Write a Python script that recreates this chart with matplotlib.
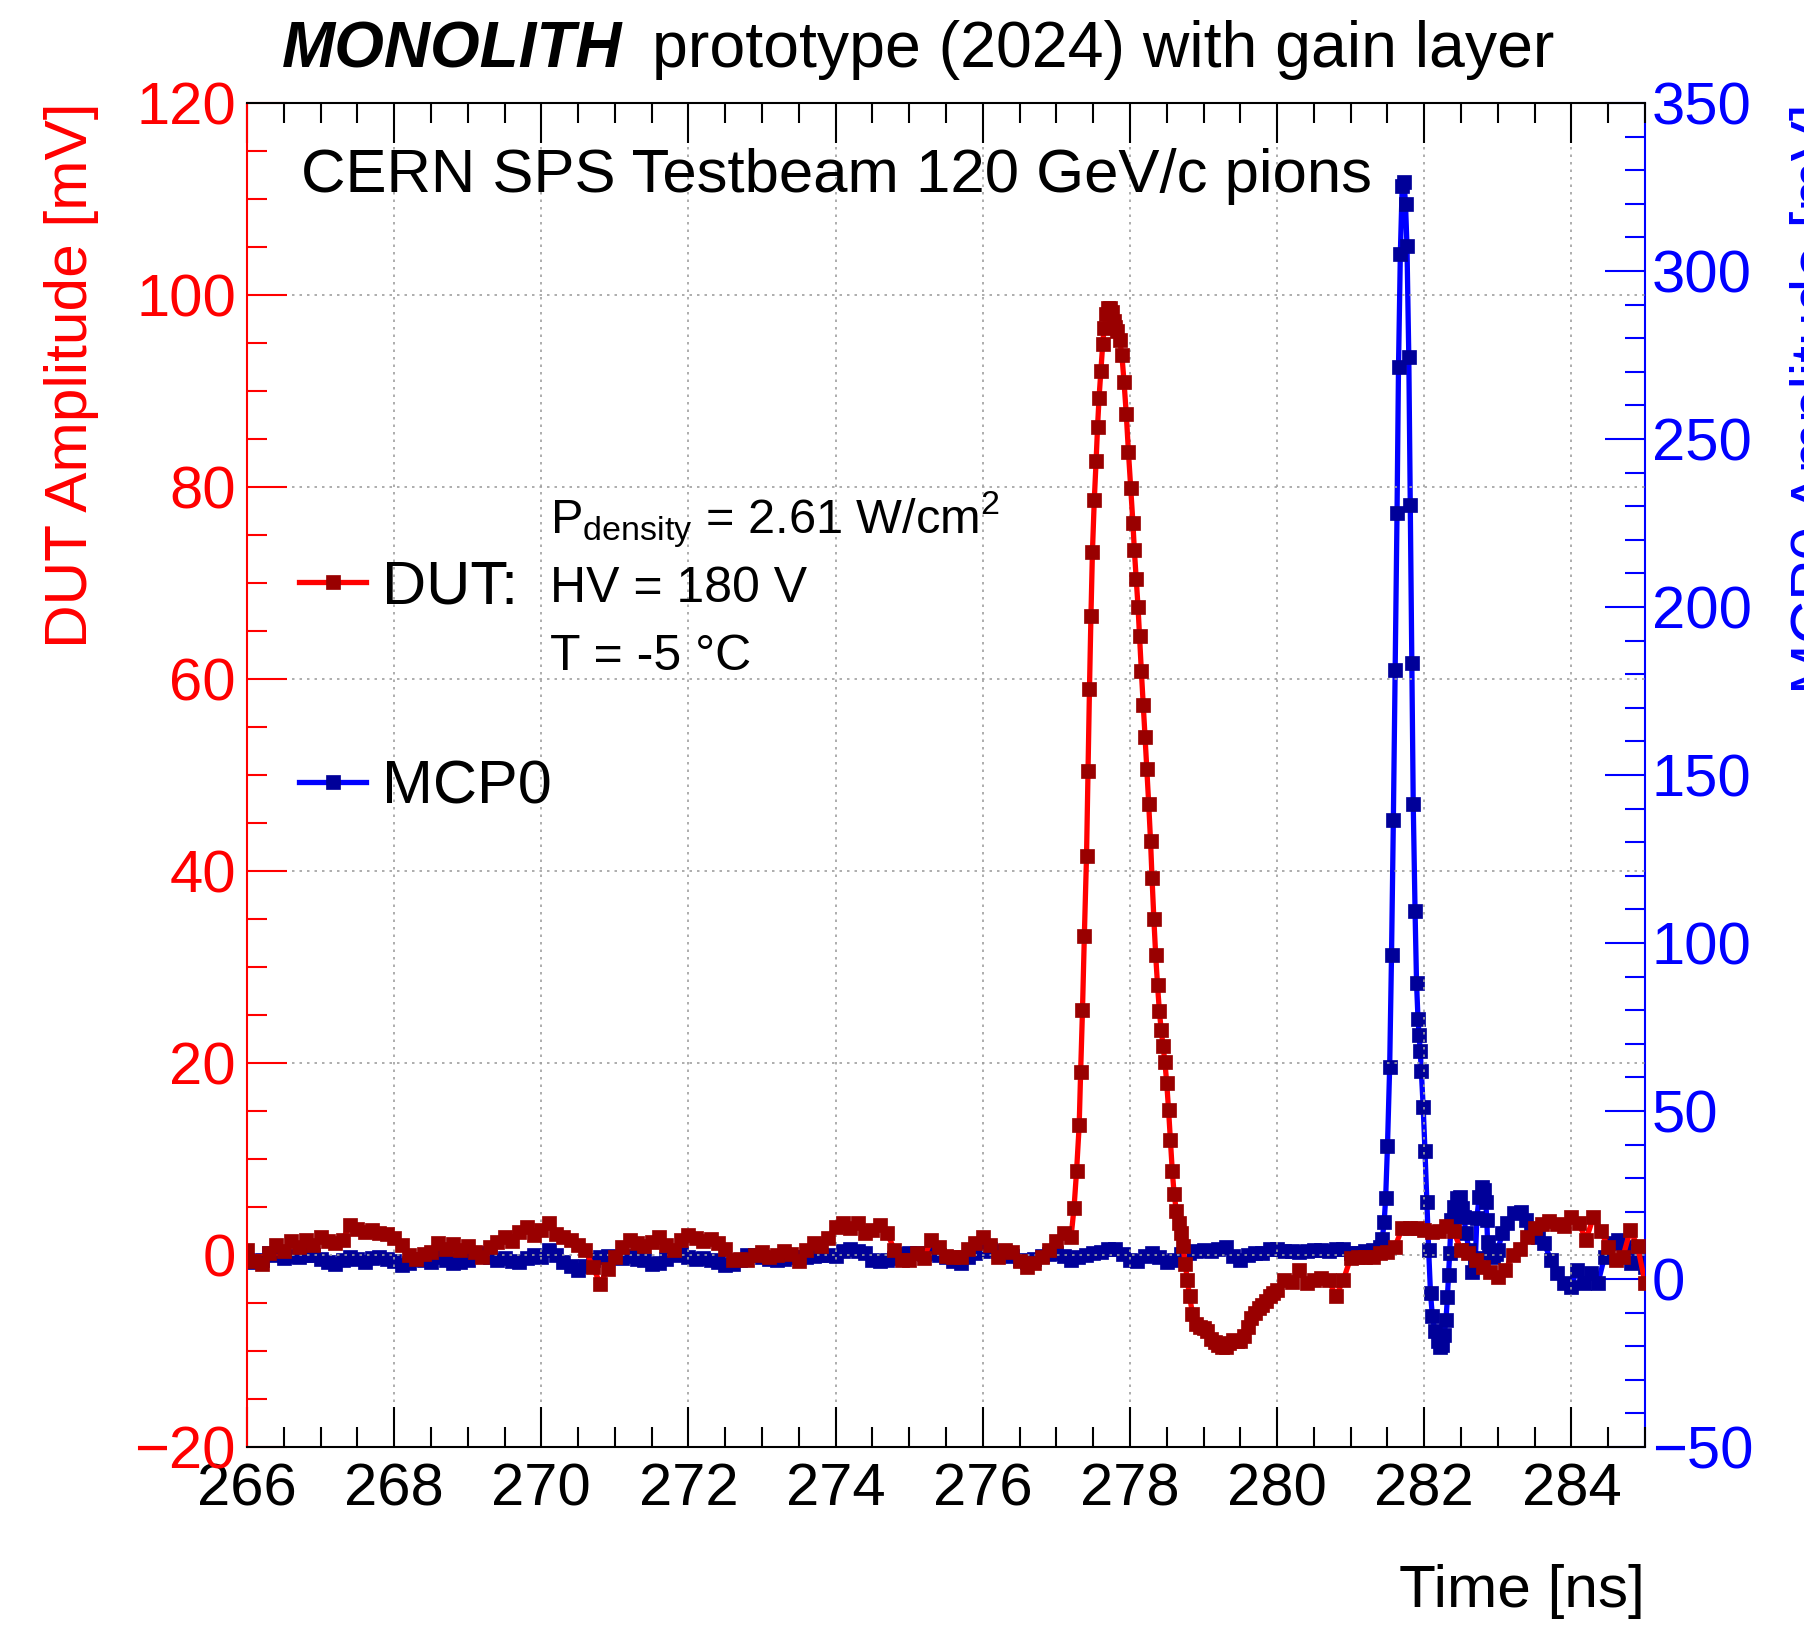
import numpy as np
import matplotlib.pyplot as plt
from matplotlib.ticker import MultipleLocator

plt.rcParams['font.family'] = ['Liberation Sans', 'DejaVu Sans']
plt.rcParams['mathtext.fontset'] = 'custom'
plt.rcParams['mathtext.rm'] = 'Liberation Sans'
plt.rcParams['mathtext.it'] = 'Liberation Sans:italic'
plt.rcParams['mathtext.bf'] = 'Liberation Sans:bold'

# ---- DUT waveform (left axis, mV) ----
# baseline before the pulse, sampled every 0.1 ns
dut_base_t = np.round(np.arange(266.0, 277.25, 0.1), 2)
dut_base_mv = [
    0.5, -0.6, -0.9, 0.2, 1.0, 0.4, 1.5, 0.8, 1.6, 1.0,     # 266
    1.9, 1.5, 1.2, 1.6, 3.1, 2.7, 2.4, 2.6, 2.3, 2.2,       # 267
    1.8, 1.0, 0.0, -0.4, 0.1, 0.3, 1.2, 0.6, 1.1, 0.5,      # 268
    0.9, 0.3, -0.2, 0.8, 1.4, 1.9, 1.5, 2.4, 2.9, 2.1,      # 269
    2.6, 3.3, 2.2, 1.9, 1.6, 1.0, 0.5, -1.2, -3.0, -1.5,    # 270
    -0.2, 0.8, 1.6, 1.2, 0.9, 1.4, 1.9, 1.0, 0.5, 1.6,      # 271
    2.1, 1.8, 1.5, 1.7, 1.2, 0.6, -0.5, -0.4, -0.5, 0.0,    # 272
    0.3, -0.2, 0.0, 0.4, 0.1, -0.6, 0.5, 1.2, 0.9, 1.8,     # 273
    2.9, 3.3, 2.8, 3.3, 2.3, 2.6, 3.1, 2.3, 0.5, -0.5,      # 274
    -0.5, 0.2, -0.3, 1.6, 0.8, -0.1, -0.2, -0.2, 0.6, 1.3,  # 275
    1.9, 1.0, -0.2, 0.5, 0.3, -0.6, -1.2, -0.8, -0.2, 0.5,  # 276
    1.5, 2.3, 1.9,                                          # 277
]
# pulse and undershoot
dut_pulse_t = [
    277.24, 277.275, 277.31, 277.33, 277.355, 277.38, 277.41, 277.43, 277.45,
    277.47, 277.49, 277.515, 277.54, 277.56, 277.58, 277.605, 277.63, 277.65,
    277.68, 277.70, 277.73, 277.76, 277.78, 277.80, 277.83, 277.86, 277.89,
    277.92, 277.95, 277.98, 278.01, 278.04, 278.06, 278.085, 278.11, 278.13,
    278.155, 278.18, 278.205, 278.23, 278.255, 278.28, 278.30, 278.325, 278.35,
    278.375, 278.40, 278.425, 278.45, 278.475, 278.50, 278.525, 278.55, 278.575,
    278.60, 278.63, 278.66, 278.69, 278.72, 278.75, 278.78, 278.81, 278.85,
    278.90, 278.95, 279.0, 279.05, 279.1, 279.15, 279.2, 279.25, 279.3,
    279.35, 279.4, 279.45, 279.5, 279.55, 279.6, 279.65, 279.7, 279.75,
    279.8, 279.85, 279.9, 279.95,
]
dut_pulse_mv = [
    4.9, 8.8, 13.5, 19.1, 25.5, 33.2, 41.6, 50.4, 59.0,
    66.6, 73.2, 78.6, 82.7, 86.3, 89.3, 92.1, 94.9, 96.6,
    98.0, 98.6, 98.6, 98.2, 97.3, 96.7, 96.2, 95.3, 93.8,
    90.9, 87.6, 83.6, 79.9, 76.3, 73.4, 70.4, 67.5, 64.5,
    60.8, 57.3, 54.0, 50.6, 47.0, 43.1, 39.3, 35.0, 31.2,
    28.1, 25.4, 23.4, 21.8, 20.1, 17.9, 15.1, 12.0, 8.8,
    6.4, 4.6, 3.3, 2.3, 0.9, -0.9, -2.6, -4.3, -6.1,
    -7.2, -7.5, -7.6, -7.9, -8.7, -9.1, -9.4, -9.6, -9.6,
    -9.2, -8.9, -9.0, -9.0, -8.4, -7.5, -6.6, -6.0, -5.5,
    -5.2, -4.8, -4.3, -4.0,
]
# recovery to the end of the window
dut_tail_t = np.round(np.arange(280.0, 285.05, 0.1), 2)
dut_tail_mv = [
    -3.6, -2.6, -2.8, -1.6, -2.9, -2.6, -2.4, -2.6, -4.3, -2.6,  # 280
    -0.3, -0.2, -0.2, -0.2, 0.2, 0.3, 0.8, 2.8, 2.8, 2.8,        # 281
    2.6, 2.4, 2.5, 3.0, 2.5, 0.5, 0.2, -0.5, -1.2, -1.8,         # 282
    -2.3, -1.6, 0.0, 0.6, 1.9, 2.8, 3.2, 3.5, 3.2, 3.0,          # 283
    4.0, 3.3, 1.6, 4.0, 2.5, 0.8, -0.5, -0.2, 2.6, 0.9,          # 284
    -2.9,                                                        # 285
]

# ---- MCP0 waveform (right axis, mV) ----
mcp_base_t = np.round(np.arange(266.0, 281.35, 0.1), 2)
mcp_base_mv = [
    5.6, 5.0, 5.8, 7.6, 7.0, 6.2, 6.8, 6.4, 7.0, 7.2,  # 266
    6.0, 5.0, 4.4, 5.8, 6.4, 6.0, 5.0, 6.2, 6.6, 6.0,  # 267
    5.4, 4.2, 4.8, 6.0, 5.6, 5.2, 6.4, 5.8, 4.8, 5.2,  # 268
    5.6, 6.8, 7.6, 6.6, 5.8, 6.2, 5.4, 5.2, 6.2, 7.0,  # 269
    6.6, 8.6, 7.2, 5.0, 4.0, 2.8, 4.0, 5.8, 6.6, 6.8,  # 270
    6.4, 6.2, 6.8, 6.0, 5.6, 4.6, 4.8, 6.0, 7.0, 7.4,  # 271
    6.6, 6.0, 6.2, 5.6, 5.2, 4.2, 4.4, 5.8, 7.0, 7.2,  # 272
    6.6, 6.0, 5.6, 6.0, 6.4, 6.6, 6.4, 6.8, 7.0, 7.2,  # 273
    6.8, 8.4, 8.8, 8.2, 7.6, 5.8, 5.4, 5.6, 6.2, 7.4,  # 274
    7.8, 7.6, 7.4, 7.8, 7.2, 6.6, 5.4, 4.8, 6.4, 7.6,  # 275
    8.2, 8.8, 8.4, 8.0, 6.8, 5.6, 5.2, 6.0, 6.8, 7.4,  # 276
    7.6, 6.8, 5.6, 6.4, 7.2, 7.6, 8.0, 8.8, 8.8, 7.4,  # 277
    5.6, 5.4, 6.8, 7.6, 6.6, 5.2, 5.8, 7.4, 7.8, 8.4,  # 278
    8.6, 8.2, 8.8, 9.6, 6.8, 5.8, 7.0, 7.6, 7.8, 8.8,  # 279
    9.0, 8.4, 8.2, 8.0, 8.4, 8.6, 8.6, 8.4, 9.0, 8.8,  # 280
    7.8, 7.8, 8.4, 8.6,                                # 281
]
mcp_pulse_t = [
    281.40, 281.43, 281.455, 281.475, 281.50, 281.53, 281.555, 281.58, 281.605,
    281.63, 281.65, 281.675, 281.70, 281.725, 281.745, 281.765, 281.79, 281.81,
    281.83, 281.85, 281.875, 281.895, 281.915, 281.93, 281.945, 281.96, 281.985,
    282.01, 282.035, 282.06, 282.085, 282.11, 282.145, 282.18, 282.21, 282.24,
    282.27, 282.295, 282.315, 282.33, 282.345, 282.365, 282.40, 282.44, 282.48,
    282.51, 282.54, 282.565, 282.61, 282.655, 282.695, 282.715, 282.745, 282.78,
    282.815, 282.835, 282.85, 282.86, 282.88, 282.93, 282.97, 283.0, 283.06,
    283.13, 283.22, 283.31, 283.38, 283.45, 283.54, 283.63, 283.72, 283.81,
    283.90, 283.99, 284.08, 284.17, 284.27, 284.36, 284.45, 284.54, 284.63,
    284.72, 284.81, 284.90, 285.0,
]
mcp_pulse_mv = [
    9.4, 12.0, 17.0, 24.0, 39.5, 63.2, 96.4, 136.7, 181.3,
    228.1, 271.5, 305.2, 325.3, 326.5, 320.0, 307.5, 274.3, 230.4,
    183.4, 141.5, 109.4, 88.1, 77.4, 72.7, 67.9, 62.0, 51.3,
    38.0, 23.0, 8.5, -4.3, -11.0, -15.5, -18.6, -20.1, -19.5,
    -16.7, -12.2, -5.3, 1.2, 7.6, 17.6, 21.5, 24.0, 24.5,
    21.0, 18.6, 13.6, 8.6, 2.2, 6.2, 18.1, 24.5, 27.5,
    26.5, 23.0, 17.6, 11.1, 7.6, 6.6, 7.5, 8.6, 13.6,
    16.6, 19.5, 20.0, 17.6, 14.6, 12.6, 10.6, 5.7, 1.7,
    -1.3, -2.3, 2.7, -1.3, 1.7, -1.3, 6.6, 10.6, 11.6,
    9.6, 4.7, 5.7, 3.7,
]

dut_t = np.concatenate([dut_base_t, dut_pulse_t, dut_tail_t])
dut_mv = np.concatenate([dut_base_mv, dut_pulse_mv, dut_tail_mv])
mcp_t = np.concatenate([mcp_base_t, mcp_pulse_t])
mcp_mv = np.concatenate([mcp_base_mv, mcp_pulse_mv])

RED, DARK_RED = '#ff0000', '#990000'
BLUE, DARK_BLUE = '#0000ff', '#000099'

fig = plt.figure(figsize=(18.04, 16.25), dpi=100)
ax1 = fig.add_axes([247 / 1804, 178 / 1625, 1398 / 1804, 1344 / 1625])
ax2 = ax1.twinx()
# DUT trace sits above the MCP trace
ax1.set_zorder(ax2.get_zorder() + 1)
ax1.patch.set_visible(False)

l_mcp, = ax2.plot(mcp_t, mcp_mv, color=BLUE, lw=3.8, marker='s', ms=10,
                  mfc=DARK_BLUE, mec=DARK_BLUE, mew=0.5, label='MCP0')
l_dut, = ax1.plot(dut_t, dut_mv, color=RED, lw=3.8, marker='s', ms=10,
                  mfc=DARK_RED, mec=DARK_RED, mew=0.5, label='DUT:')

ax1.set_xlim(266, 285)
ax1.set_ylim(-20, 120)
ax2.set_ylim(-50, 350)

ax1.xaxis.set_major_locator(MultipleLocator(2))
ax1.xaxis.set_minor_locator(MultipleLocator(0.5))
ax1.yaxis.set_major_locator(MultipleLocator(20))
ax1.yaxis.set_minor_locator(MultipleLocator(5))
ax2.yaxis.set_major_locator(MultipleLocator(50))
ax2.yaxis.set_minor_locator(MultipleLocator(10))

ax1.tick_params(axis='x', which='both', direction='in', top=True, bottom=True,
                width=1.5, labelsize=43, pad=11, colors='black')
ax1.tick_params(axis='y', which='both', direction='in', left=True, right=False,
                width=1.5, labelsize=43, pad=8, colors=RED)
ax2.tick_params(axis='y', which='both', direction='in', right=True, left=False,
                width=1.5, labelsize=43, pad=5, colors=BLUE)
for ax in (ax1, ax2):
    ax.tick_params(which='major', length=28.8)
    ax.tick_params(which='minor', length=14.4)

for side in ('top', 'bottom'):
    ax1.spines[side].set_linewidth(1.5)
    ax2.spines[side].set_visible(False)
ax1.spines['left'].set_color(RED)
ax1.spines['left'].set_linewidth(1.5)
ax1.spines['right'].set_visible(False)
ax2.spines['left'].set_visible(False)
ax2.spines['right'].set_color(BLUE)
ax2.spines['right'].set_linewidth(1.5)

ax1.grid(which='major', linestyle=(0, (1.5, 3)), color='#a0a0a0', lw=1.2)

ax1.set_xlabel('Time [ns]', fontsize=43.5, loc='right')
ax1.xaxis.set_label_coords(1.0, -0.087)
ax1.set_ylabel('DUT Amplitude [mV]', fontsize=43.5, color=RED, loc='top')
ax1.yaxis.set_label_coords(-0.106, 1.0)
ax2.set_ylabel('MCP0 Amplitude [mV]', fontsize=43.5, color=BLUE, loc='top')
ax2.yaxis.set_label_coords(1.104, 1.0)

# title: bold-italic name followed by plain text
fig.text(282 / 1804, 1 - 67 / 1625, 'MONOLITH', fontsize=46,
         fontweight='bold', fontstyle='italic', va='baseline')
fig.text(652 / 1804, 1 - 67 / 1625, 'prototype (2024) with gain layer',
         fontsize=46.4, va='baseline')
fig.text(301 / 1804, 1 - 192 / 1625, 'CERN SPS Testbeam 120 GeV/c pions',
         fontsize=44.4, va='baseline')

# operating conditions of the DUT
fig.text(550 / 1804, 1 - 533 / 1625,
         r'P$_{\mathrm{density}}$ = 2.61 W/cm$^{2}$', fontsize=35, va='baseline')
fig.text(550 / 1804, 1 - 602 / 1625, 'HV = 180 V', fontsize=36, va='baseline')
fig.text(550 / 1804, 1 - 670 / 1625, 'T = -5 \u00b0C', fontsize=36, va='baseline')

ax1.legend(handles=[l_dut, l_mcp], loc='upper left',
           bbox_to_anchor=(299 / 1804, 1 - 559 / 1625),
           bbox_transform=fig.transFigure, frameon=False, fontsize=44,
           handlelength=1.1, handletextpad=0.26, labelspacing=2.35,
           borderpad=0, borderaxespad=0, numpoints=1)

fig.savefig('out.png', dpi=100)
